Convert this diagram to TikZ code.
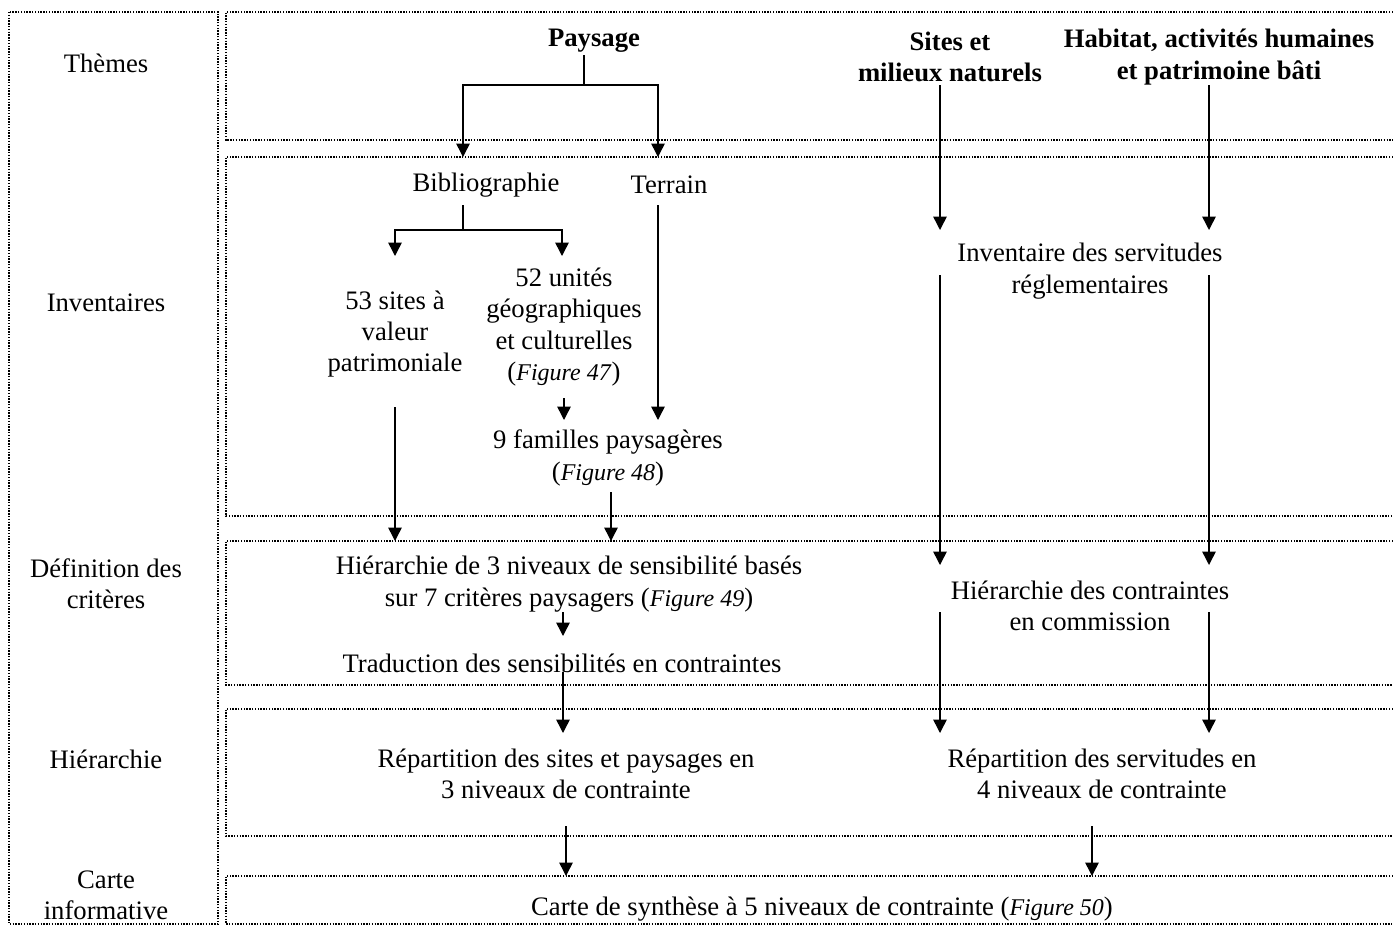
\documentclass[tikz,border=0pt]{standalone}
\usepackage{fontspec}
\setmainfont{Liberation Serif}
\usetikzlibrary{arrows.meta,positioning}

\tikzset{
  band/.style={densely dotted,line width=1.1pt},
  lbl/.style={align=center,inner sep=0pt},
  theme/.style={lbl,font=\bfseries\fontsize{20}{23.5}\selectfont},
  lin/.style={line width=1.1pt},
  arr/.style={lin,-{Triangle[length=10pt,width=10pt]}},
}
\newcommand{\figref}[1]{(\textit{\fontsize{18}{23.5}\selectfont Figure #1})}

\begin{document}
\begin{tikzpicture}[x=0.75pt,y=-0.75pt,font=\fontsize{20}{23.5}\selectfont]
  \useasboundingbox (0,0) rectangle (1393,926);
  % cadres
  \draw[band] (9,12) rectangle (218,924);
  \foreach \t/\b in {12/140,157/516,541/685,709/836,876/924}
    \draw[band] (1393,\t) -- (226,\t) -- (226,\b) -- (1393,\b);
  % colonne des etapes
  \node[lbl] (themes) at (106,63) {Thèmes};
  \node[lbl] (invent) at (106,303) {Inventaires};
  \node[lbl] (defcrit) at (106,584) {Définition des\\critères};
  \node[lbl] (hierar) at (106,759) {Hiérarchie};
  \node[lbl] (carte) at (106,895) {Carte\\informative};
  % themes
  \node[theme] (paysage) at (594,41) {Paysage};
  \node[theme] (sites) at (950,57) {Sites et\\milieux naturels};
  \node[theme] (habitat) at (1219,57) {Habitat, activités humaines\\et patrimoine bâti};
  % inventaires
  \node[lbl] (biblio) at (486,185) {Bibliographie};
  \node[lbl] (terrain) at (669,185) {Terrain};
  \node[lbl] (sites53) at (395,334) {53 sites à\\valeur\\patrimoniale};
  \node[lbl] (unites) at (564,327) {52 unités\\géographiques\\et culturelles\\\figref{47}};
  \node[lbl] (familles) at (608,458) {9 familles paysagères\\\figref{48}};
  \node[lbl] (servit) at (1090,271) {Inventaire des servitudes\\réglementaires};
  % definition des criteres
  \node[lbl] (hier3) at (569,584) {Hiérarchie de 3 niveaux de sensibilité basés\\sur 7 critères paysagers \figref{49}};
  \node[lbl] (trad) at (562,663) {Traduction des sensibilités en contraintes};
  \node[lbl] (hiercom) at (1090,606) {Hiérarchie des contraintes\\en commission};
  % hierarchie
  \node[lbl] (repsites) at (566,774) {Répartition des sites et paysages en\\3 niveaux de contrainte};
  \node[lbl] (repserv) at (1102,774) {Répartition des servitudes en\\4 niveaux de contrainte};
  % carte
  \node[lbl] (synth) at (822,909) {Carte de synthèse à 5 niveaux de contrainte \figref{50}};

  % points de passage
  \coordinate (pout) at (584,55);
  \coordinate (pfork) at (584,85);
  \coordinate (bibin) at (463,157);
  \coordinate (terin) at (658,157);
  \coordinate (bout) at (463,205);
  \coordinate (bfork) at (463,230);
  \coordinate (sitin) at (395,256);
  \coordinate (uniin) at (562,256);
  \coordinate (uniout) at (564,398);
  \coordinate (famin) at (564,420);
  \coordinate (terout) at (658,205);
  \coordinate (terfam) at (658,420);
  \coordinate (s53out) at (395,407);
  \coordinate (s53in) at (395,541);
  \coordinate (famout) at (611,492);
  \coordinate (famdef) at (611,541);
  \coordinate (sitout) at (940,85);
  \coordinate (sitsrv) at (940,230);
  \coordinate (habout) at (1209,85);
  \coordinate (habsrv) at (1209,230);
  \coordinate (srvoutA) at (940,275);
  \coordinate (hcinA) at (940,565);
  \coordinate (srvoutB) at (1209,275);
  \coordinate (hcinB) at (1209,565);
  \coordinate (h3out) at (563,612);
  \coordinate (tradin) at (563,636);
  \coordinate (tradout) at (563,672);
  \coordinate (rsin) at (563,733);
  \coordinate (hcoutA) at (940,612);
  \coordinate (rvinA) at (940,733);
  \coordinate (hcoutB) at (1209,612);
  \coordinate (rvinB) at (1209,733);
  \coordinate (rsout) at (566,826);
  \coordinate (synA) at (566,876);
  \coordinate (rvout) at (1092,826);
  \coordinate (synB) at (1092,876);

  % fleches
  \draw[lin] (pout) -- (pfork);
  \draw[arr] (pfork) -| (bibin);
  \draw[arr] (pfork) -| (terin);
  \draw[lin] (bout) -- (bfork);
  \draw[arr] (bfork) -| (sitin);
  \draw[arr] (bfork) -| (uniin);
  \draw[arr] (uniout) -- (famin);
  \draw[arr] (terout) -- (terfam);
  \draw[arr] (s53out) -- (s53in);
  \draw[arr] (famout) -- (famdef);
  \draw[arr] (sitout) -- (sitsrv);
  \draw[arr] (habout) -- (habsrv);
  \draw[arr] (srvoutA) -- (hcinA);
  \draw[arr] (srvoutB) -- (hcinB);
  \draw[arr] (h3out) -- (tradin);
  \draw[arr] (tradout) -- (rsin);
  \draw[arr] (hcoutA) -- (rvinA);
  \draw[arr] (hcoutB) -- (rvinB);
  \draw[arr] (rsout) -- (synA);
  \draw[arr] (rvout) -- (synB);
\end{tikzpicture}
\end{document}
